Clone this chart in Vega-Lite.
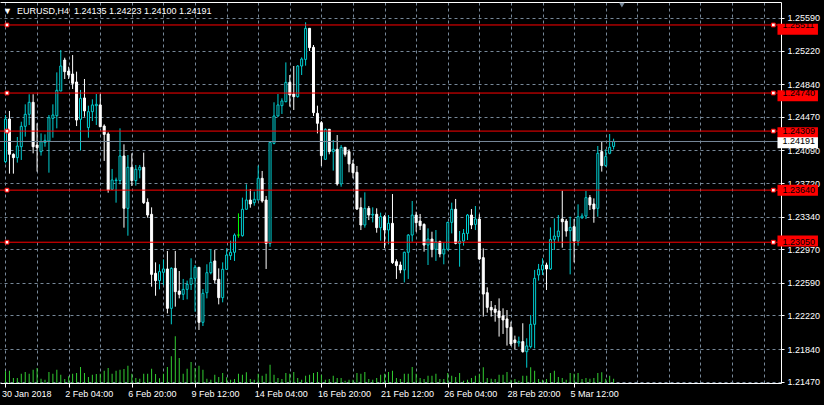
{
"$schema":"https://vega.github.io/schema/vega-lite/v6.json",
"width":781,"height":381,
"autosize":{"type":"none"},
"padding":{"left":0,"top":2,"right":43,"bottom":22},
"background":"#000000",
"config":{"view":{"stroke":null},"font":"Liberation Sans"},
"title":{"text":"▼\u00a0\u00a0EURUSD,H4\u00a0\u00a01.24135 1.24223 1.24100 1.24191","anchor":"start","frame":"group","orient":"top","offset":-21,"dx":3,"fontSize":9,"font":"Liberation Sans","fontWeight":"normal","color":"#ffffff","baseline":"alphabetic"},
"datasets":{
"bars":[
{"i":0,"o":1.23963,"h":1.24491,"l":1.23944,"c":1.24446,"v":1170},
{"i":1,"o":1.24446,"h":1.24537,"l":1.23827,"c":1.24046,"v":1230},
{"i":2,"o":1.24046,"h":1.24057,"l":1.23827,"c":1.24008,"v":500},
{"i":3,"o":1.24008,"h":1.24242,"l":1.23952,"c":1.24140,"v":500},
{"i":4,"o":1.24132,"h":1.24415,"l":1.23982,"c":1.24363,"v":930},
{"i":5,"o":1.24363,"h":1.24612,"l":1.24246,"c":1.24499,"v":1100},
{"i":6,"o":1.24499,"h":1.24726,"l":1.24378,"c":1.24635,"v":930},
{"i":7,"o":1.24635,"h":1.24726,"l":1.24057,"c":1.24132,"v":1330},
{"i":8,"o":1.24151,"h":1.24397,"l":1.23850,"c":1.24121,"v":1500},
{"i":9,"o":1.24076,"h":1.24283,"l":1.24031,"c":1.24189,"v":430},
{"i":10,"o":1.24178,"h":1.24272,"l":1.24132,"c":1.24204,"v":330},
{"i":11,"o":1.24196,"h":1.24491,"l":1.23838,"c":1.24461,"v":1100},
{"i":12,"o":1.24453,"h":1.24612,"l":1.24234,"c":1.24491,"v":930},
{"i":13,"o":1.24483,"h":1.24974,"l":1.24340,"c":1.24771,"v":1330},
{"i":14,"o":1.24763,"h":1.25227,"l":1.24763,"c":1.25046,"v":830},
{"i":15,"o":1.25114,"h":1.25140,"l":1.24899,"c":1.24982,"v":400},
{"i":16,"o":1.24989,"h":1.25038,"l":1.24899,"c":1.24944,"v":670},
{"i":17,"o":1.24955,"h":1.25170,"l":1.24786,"c":1.24850,"v":930},
{"i":18,"o":1.24865,"h":1.24982,"l":1.24366,"c":1.24434,"v":1000},
{"i":19,"o":1.24442,"h":1.24775,"l":1.24088,"c":1.24680,"v":1600},
{"i":20,"o":1.24684,"h":1.24899,"l":1.24472,"c":1.24537,"v":1000},
{"i":21,"o":1.24348,"h":1.24597,"l":1.24234,"c":1.24529,"v":600},
{"i":22,"o":1.24529,"h":1.24669,"l":1.24423,"c":1.24605,"v":830},
{"i":23,"o":1.24597,"h":1.24729,"l":1.24378,"c":1.24612,"v":900},
{"i":24,"o":1.24605,"h":1.24726,"l":1.24351,"c":1.24359,"v":930},
{"i":25,"o":1.24366,"h":1.24385,"l":1.23971,"c":1.24272,"v":1230},
{"i":26,"o":1.24276,"h":1.24295,"l":1.23611,"c":1.23642,"v":1500},
{"i":27,"o":1.23649,"h":1.23880,"l":1.23649,"c":1.23755,"v":930},
{"i":28,"o":1.23748,"h":1.23782,"l":1.23498,"c":1.23755,"v":1230},
{"i":29,"o":1.23748,"h":1.24340,"l":1.23706,"c":1.24027,"v":1330},
{"i":30,"o":1.24027,"h":1.24159,"l":1.23215,"c":1.23434,"v":1400},
{"i":31,"o":1.23434,"h":1.24038,"l":1.23124,"c":1.23899,"v":1730},
{"i":32,"o":1.23899,"h":1.24057,"l":1.23687,"c":1.23748,"v":930},
{"i":33,"o":1.23748,"h":1.23925,"l":1.23691,"c":1.23876,"v":500},
{"i":34,"o":1.23869,"h":1.23925,"l":1.23774,"c":1.23899,"v":430},
{"i":35,"o":1.23899,"h":1.24065,"l":1.23483,"c":1.23498,"v":930},
{"i":36,"o":1.23502,"h":1.23547,"l":1.23328,"c":1.23358,"v":930},
{"i":37,"o":1.23366,"h":1.23445,"l":1.22546,"c":1.22686,"v":1430},
{"i":38,"o":1.22698,"h":1.22822,"l":1.22444,"c":1.22615,"v":900},
{"i":39,"o":1.22615,"h":1.22800,"l":1.22516,"c":1.22717,"v":470},
{"i":40,"o":1.22709,"h":1.22856,"l":1.22565,"c":1.22747,"v":930},
{"i":41,"o":1.22747,"h":1.22951,"l":1.22244,"c":1.22301,"v":1600},
{"i":42,"o":1.22301,"h":1.22766,"l":1.22120,"c":1.22754,"v":2670},
{"i":43,"o":1.22754,"h":1.22951,"l":1.22320,"c":1.22490,"v":4670},
{"i":44,"o":1.22497,"h":1.22724,"l":1.22414,"c":1.22460,"v":2500},
{"i":45,"o":1.22460,"h":1.22634,"l":1.22395,"c":1.22516,"v":930},
{"i":46,"o":1.22516,"h":1.22615,"l":1.22403,"c":1.22573,"v":1430},
{"i":47,"o":1.22573,"h":1.22868,"l":1.22509,"c":1.22641,"v":2100},
{"i":48,"o":1.22641,"h":1.22792,"l":1.22263,"c":1.22766,"v":1500},
{"i":49,"o":1.22766,"h":1.22766,"l":1.22056,"c":1.22143,"v":1730},
{"i":50,"o":1.22143,"h":1.22520,"l":1.22101,"c":1.22471,"v":1330},
{"i":51,"o":1.22478,"h":1.22800,"l":1.22414,"c":1.22705,"v":430},
{"i":52,"o":1.22705,"h":1.22970,"l":1.22686,"c":1.22822,"v":330},
{"i":53,"o":1.22838,"h":1.22962,"l":1.22584,"c":1.22622,"v":830},
{"i":54,"o":1.22630,"h":1.22754,"l":1.22346,"c":1.22422,"v":600},
{"i":55,"o":1.22422,"h":1.22822,"l":1.22369,"c":1.22743,"v":1000},
{"i":56,"o":1.22743,"h":1.22981,"l":1.22736,"c":1.22905,"v":570},
{"i":57,"o":1.22898,"h":1.23067,"l":1.22849,"c":1.22936,"v":330},
{"i":58,"o":1.22936,"h":1.23150,"l":1.22838,"c":1.23131,"v":400},
{"i":59,"o":1.23131,"h":1.23377,"l":1.23101,"c":1.23131,"v":930},
{"i":60,"o":1.23124,"h":1.23555,"l":1.23113,"c":1.23423,"v":830},
{"i":61,"o":1.23423,"h":1.23706,"l":1.23423,"c":1.23528,"v":1070},
{"i":62,"o":1.23528,"h":1.23653,"l":1.23441,"c":1.23483,"v":400},
{"i":63,"o":1.23498,"h":1.23623,"l":1.23464,"c":1.23536,"v":330},
{"i":64,"o":1.23528,"h":1.23918,"l":1.23528,"c":1.23774,"v":930},
{"i":65,"o":1.23774,"h":1.23857,"l":1.23498,"c":1.23517,"v":730},
{"i":66,"o":1.23528,"h":1.23574,"l":1.22747,"c":1.23037,"v":930},
{"i":67,"o":1.23037,"h":1.24196,"l":1.22999,"c":1.24181,"v":1830},
{"i":68,"o":1.24170,"h":1.24635,"l":1.24159,"c":1.24480,"v":830},
{"i":69,"o":1.24480,"h":1.24729,"l":1.24472,"c":1.24605,"v":500},
{"i":70,"o":1.24597,"h":1.24680,"l":1.24503,"c":1.24650,"v":400},
{"i":71,"o":1.24642,"h":1.25087,"l":1.24635,"c":1.24861,"v":1000},
{"i":72,"o":1.24861,"h":1.24944,"l":1.24586,"c":1.24718,"v":930},
{"i":73,"o":1.24729,"h":1.25046,"l":1.24548,"c":1.24699,"v":1100},
{"i":74,"o":1.24699,"h":1.25057,"l":1.24688,"c":1.25046,"v":500},
{"i":75,"o":1.25046,"h":1.25144,"l":1.24944,"c":1.25125,"v":330},
{"i":76,"o":1.25121,"h":1.25541,"l":1.25050,"c":1.25473,"v":730},
{"i":77,"o":1.25473,"h":1.25473,"l":1.25216,"c":1.25254,"v":830},
{"i":78,"o":1.25258,"h":1.25284,"l":1.24480,"c":1.24518,"v":1000},
{"i":79,"o":1.24510,"h":1.24597,"l":1.24283,"c":1.24397,"v":1100},
{"i":80,"o":1.24404,"h":1.24423,"l":1.23914,"c":1.24031,"v":830},
{"i":81,"o":1.23989,"h":1.24340,"l":1.23989,"c":1.24329,"v":330},
{"i":82,"o":1.24329,"h":1.24329,"l":1.24046,"c":1.24076,"v":400},
{"i":83,"o":1.24076,"h":1.24208,"l":1.23861,"c":1.24103,"v":730},
{"i":84,"o":1.24103,"h":1.24264,"l":1.23691,"c":1.23710,"v":500},
{"i":85,"o":1.23710,"h":1.24151,"l":1.23679,"c":1.24125,"v":500},
{"i":86,"o":1.24125,"h":1.24125,"l":1.24020,"c":1.24046,"v":230},
{"i":87,"o":1.24076,"h":1.24103,"l":1.23842,"c":1.23937,"v":330},
{"i":88,"o":1.23937,"h":1.23982,"l":1.23774,"c":1.23838,"v":330},
{"i":89,"o":1.23842,"h":1.23914,"l":1.23415,"c":1.23426,"v":1000},
{"i":90,"o":1.23441,"h":1.23555,"l":1.23188,"c":1.23245,"v":930},
{"i":91,"o":1.23245,"h":1.23615,"l":1.23215,"c":1.23434,"v":1100},
{"i":92,"o":1.23434,"h":1.23460,"l":1.23301,"c":1.23358,"v":400},
{"i":93,"o":1.23358,"h":1.23445,"l":1.23275,"c":1.23366,"v":330},
{"i":94,"o":1.23366,"h":1.23434,"l":1.23158,"c":1.23215,"v":500},
{"i":95,"o":1.23215,"h":1.23385,"l":1.23067,"c":1.23339,"v":830},
{"i":96,"o":1.23339,"h":1.23358,"l":1.22981,"c":1.23188,"v":930},
{"i":97,"o":1.23188,"h":1.23358,"l":1.23026,"c":1.23264,"v":1100},
{"i":98,"o":1.23264,"h":1.23596,"l":1.22804,"c":1.22819,"v":1230},
{"i":99,"o":1.22830,"h":1.22856,"l":1.22634,"c":1.22785,"v":500},
{"i":100,"o":1.22792,"h":1.22830,"l":1.22698,"c":1.22736,"v":400},
{"i":101,"o":1.22736,"h":1.22943,"l":1.22595,"c":1.22936,"v":930},
{"i":102,"o":1.22936,"h":1.23143,"l":1.22634,"c":1.23131,"v":930},
{"i":103,"o":1.23131,"h":1.23517,"l":1.23056,"c":1.23358,"v":1600},
{"i":104,"o":1.23358,"h":1.23396,"l":1.23169,"c":1.23271,"v":930},
{"i":105,"o":1.23290,"h":1.23370,"l":1.23188,"c":1.23237,"v":500},
{"i":106,"o":1.23252,"h":1.23264,"l":1.22943,"c":1.23018,"v":400},
{"i":107,"o":1.23018,"h":1.23207,"l":1.22792,"c":1.23086,"v":730},
{"i":108,"o":1.23086,"h":1.23169,"l":1.22879,"c":1.22970,"v":730},
{"i":109,"o":1.22970,"h":1.23188,"l":1.22838,"c":1.23056,"v":930},
{"i":110,"o":1.23056,"h":1.23067,"l":1.22879,"c":1.22917,"v":400},
{"i":111,"o":1.22917,"h":1.23045,"l":1.22800,"c":1.22970,"v":400},
{"i":112,"o":1.22970,"h":1.23282,"l":1.22955,"c":1.23275,"v":1000},
{"i":113,"o":1.23275,"h":1.23498,"l":1.23150,"c":1.23423,"v":730},
{"i":114,"o":1.23423,"h":1.23540,"l":1.23026,"c":1.23037,"v":600},
{"i":115,"o":1.23037,"h":1.23177,"l":1.22773,"c":1.23063,"v":1000},
{"i":116,"o":1.23063,"h":1.23199,"l":1.23011,"c":1.23150,"v":230},
{"i":117,"o":1.23150,"h":1.23370,"l":1.23075,"c":1.23358,"v":330},
{"i":118,"o":1.23358,"h":1.23426,"l":1.23199,"c":1.23245,"v":500},
{"i":119,"o":1.23252,"h":1.23460,"l":1.23188,"c":1.23313,"v":730},
{"i":120,"o":1.23313,"h":1.23366,"l":1.22849,"c":1.22860,"v":930},
{"i":121,"o":1.22875,"h":1.22981,"l":1.22207,"c":1.22463,"v":1570},
{"i":122,"o":1.22478,"h":1.22539,"l":1.22252,"c":1.22312,"v":500},
{"i":123,"o":1.22312,"h":1.22384,"l":1.22207,"c":1.22282,"v":430},
{"i":124,"o":1.22293,"h":1.22339,"l":1.22150,"c":1.22256,"v":400},
{"i":125,"o":1.22271,"h":1.22414,"l":1.21981,"c":1.22196,"v":830},
{"i":126,"o":1.22215,"h":1.22301,"l":1.22011,"c":1.22169,"v":830},
{"i":127,"o":1.22181,"h":1.22282,"l":1.21879,"c":1.22083,"v":1100},
{"i":128,"o":1.22086,"h":1.22150,"l":1.21875,"c":1.21897,"v":330},
{"i":129,"o":1.21943,"h":1.21992,"l":1.21837,"c":1.21913,"v":400},
{"i":130,"o":1.21909,"h":1.21981,"l":1.21867,"c":1.21924,"v":230},
{"i":131,"o":1.21924,"h":1.22132,"l":1.21799,"c":1.21810,"v":730},
{"i":132,"o":1.21810,"h":1.21962,"l":1.21629,"c":1.21875,"v":730},
{"i":133,"o":1.21867,"h":1.22226,"l":1.21848,"c":1.22120,"v":1570},
{"i":134,"o":1.22120,"h":1.22736,"l":1.21848,"c":1.22641,"v":1230},
{"i":135,"o":1.22679,"h":1.22804,"l":1.22615,"c":1.22743,"v":400},
{"i":136,"o":1.22736,"h":1.22868,"l":1.22679,"c":1.22792,"v":330},
{"i":137,"o":1.22792,"h":1.22819,"l":1.22509,"c":1.22747,"v":400},
{"i":138,"o":1.22747,"h":1.23218,"l":1.22736,"c":1.23082,"v":1000},
{"i":139,"o":1.23082,"h":1.23320,"l":1.22962,"c":1.23120,"v":1230},
{"i":140,"o":1.23113,"h":1.23358,"l":1.23056,"c":1.23177,"v":600},
{"i":141,"o":1.23313,"h":1.23634,"l":1.22988,"c":1.23282,"v":500},
{"i":142,"o":1.23290,"h":1.23313,"l":1.23113,"c":1.23177,"v":330},
{"i":143,"o":1.23181,"h":1.23339,"l":1.22686,"c":1.23218,"v":1000},
{"i":144,"o":1.23226,"h":1.23313,"l":1.22822,"c":1.23063,"v":930},
{"i":145,"o":1.23063,"h":1.23479,"l":1.23011,"c":1.23339,"v":1000},
{"i":146,"o":1.23328,"h":1.23377,"l":1.23313,"c":1.23347,"v":400},
{"i":147,"o":1.23347,"h":1.23630,"l":1.23313,"c":1.23555,"v":500},
{"i":148,"o":1.23555,"h":1.23585,"l":1.23415,"c":1.23472,"v":430},
{"i":149,"o":1.23483,"h":1.23547,"l":1.23271,"c":1.23426,"v":500},
{"i":150,"o":1.23434,"h":1.24140,"l":1.23339,"c":1.24057,"v":1000},
{"i":151,"o":1.24076,"h":1.24189,"l":1.23850,"c":1.23918,"v":1070},
{"i":152,"o":1.23918,"h":1.24103,"l":1.23906,"c":1.24020,"v":430},
{"i":153,"o":1.24057,"h":1.24276,"l":1.24046,"c":1.24125,"v":730},
{"i":154,"o":1.24135,"h":1.24223,"l":1.24100,"c":1.24191,"v":430}
],
"levels":[{"p":1.25511},{"p":1.24740},{"p":1.24309},{"p":1.23640},{"p":1.23050}],
"bid":[{"p":1.24191}]
},
"resolve":{"scale":{"y":"independent"}},
"layer":[
{"data":{"name":"bars"},
 "mark":{"type":"bar","orient":"vertical","size":1,"color":"#32cd32"},
 "encoding":{
  "x":{"field":"i","type":"quantitative","scale":{"domain":[-0.125,195.125],"nice":false,"zero":false},
       "axis":{"orient":"top","domainColor":"#ffffff","ticks":false,"labels":false,"grid":false,"title":null}},
  "y":{"field":"v","type":"quantitative","scale":{"domain":[0,38100],"nice":false},"axis":null}
 }},
{"data":{"name":"bars"},
 "mark":{"type":"rule","strokeWidth":1},
 "encoding":{
  "x":{"field":"i","type":"quantitative","scale":{"domain":[-0.125,195.125],"nice":false,"zero":false},
       "axis":{"orient":"bottom","values":[0,8,16,24,32,40,48,56,64,72,80,88,96,104,112,120,128,136,144,152,160,168,176,184,192],
       "grid":true,"gridColor":"#778899","gridDash":[3,3],"gridWidth":1,
       "domainColor":"#ffffff","tickColor":"#ffffff","tickSize":4,
       "tickOpacity":{"condition":{"test":"datum.value % 16 === 0 && datum.value <= 144","value":1},"value":0},
       "labelExpr":"['30 Jan 2018','2 Feb 04:00','6 Feb 20:00','9 Feb 12:00','14 Feb 04:00','16 Feb 20:00','21 Feb 12:00','26 Feb 04:00','28 Feb 20:00','5 Mar 12:00'][datum.value/16] || ''",
       "labelAlign":"left","labelBaseline":"top","labelPadding":2,"labelOffset":-4,"labelColor":"#ffffff","labelFont":"Liberation Sans","labelFontSize":9,
       "labelOverlap":false,"labelFlush":false,"labelBound":false,"title":null}},
  "y":{"field":"l","type":"quantitative","scale":{"domain":[1.214553,1.257712],"nice":false,"zero":false},
       "axis":{"orient":"right","values":[1.2147,1.2184,1.2222,1.2259,1.2297,1.2334,1.2372,1.2409,1.2447,1.2484,1.2522,1.2559],
       "format":".5f","grid":true,"gridColor":"#778899","gridDash":[3,3],"gridWidth":1,
       "domainColor":"#ffffff","tickColor":"#ffffff","tickSize":3,"labelPadding":3,"labelBaseline":"middle",
       "labelColor":"#ffffff","labelFont":"Liberation Sans","labelFontSize":9,"labelOverlap":false,"labelBound":false,"labelFlush":false,"title":null,"zindex":0}},
  "y2":{"field":"h"},
  "stroke":{"condition":[{"test":"datum.c == datum.o","value":"#00ff00"},{"test":"datum.c > datum.o","value":"#00ced1"}],"value":"#ffffff"}
 }},
{"data":{"name":"bars"},
 "mark":{"type":"bar","orient":"vertical","size":2,"strokeWidth":1},
 "encoding":{
  "x":{"field":"i","type":"quantitative","axis":null},
  "y":{"field":"o","type":"quantitative","scale":{"domain":[1.214553,1.257712],"nice":false,"zero":false},"axis":null},
  "y2":{"field":"c"},
  "fill":{"condition":{"test":"datum.c >= datum.o","value":"#000000"},"value":"#ffffff"},
  "stroke":{"condition":[{"test":"datum.c == datum.o","value":"#00ff00"},{"test":"datum.c > datum.o","value":"#00ced1"}],"value":"#ffffff"}
 }},
{"data":{"name":"bid"},
 "mark":{"type":"rule","color":"#778899","strokeWidth":1},
 "encoding":{"y":{"field":"p","type":"quantitative","scale":{"domain":[1.214553,1.257712],"nice":false,"zero":false},"axis":null}}},
{"data":{"name":"levels"},
 "mark":{"type":"rule","color":"#ff0000","strokeWidth":1},
 "encoding":{"y":{"field":"p","type":"quantitative","scale":{"domain":[1.214553,1.257712],"nice":false,"zero":false},"axis":null}}},
{"data":{"name":"levels"},
 "mark":{"type":"point","shape":"square","filled":true,"fill":"#ffffff","stroke":"#ff0000","strokeWidth":1,"size":14,"opacity":1},
 "encoding":{"x":{"datum":0.375,"type":"quantitative","axis":null},"y":{"field":"p","type":"quantitative","scale":{"domain":[1.214553,1.257712],"nice":false,"zero":false},"axis":null}}},
{"data":{"name":"levels"},
 "mark":{"type":"point","shape":"square","filled":true,"fill":"#ffffff","stroke":"#ff0000","strokeWidth":1,"size":14,"opacity":1},
 "encoding":{"x":{"datum":194.45,"type":"quantitative","axis":null},"y":{"field":"p","type":"quantitative","scale":{"domain":[1.214553,1.257712],"nice":false,"zero":false},"axis":null}}},
{"data":{"name":"levels"},
 "mark":{"type":"bar","orient":"horizontal","size":11,"color":"#ff0000"},
 "encoding":{"x":{"datum":195.5,"type":"quantitative","axis":null},"x2":{"datum":205.75},"y":{"field":"p","type":"quantitative","scale":{"domain":[1.214553,1.257712],"nice":false,"zero":false},"axis":null}}},
{"data":{"name":"levels"},
 "mark":{"type":"text","align":"left","baseline":"middle","font":"Liberation Sans","fontSize":9,"color":"#000000"},
 "encoding":{"x":{"datum":196.75,"type":"quantitative","axis":null},"y":{"field":"p","type":"quantitative","scale":{"domain":[1.214553,1.257712],"nice":false,"zero":false},"axis":null},"text":{"field":"p","type":"quantitative","format":".5f"}}},
{"data":{"name":"bid"},
 "mark":{"type":"bar","orient":"horizontal","size":11,"color":"#ffffff"},
 "encoding":{"x":{"datum":195.5,"type":"quantitative","axis":null},"x2":{"datum":205.75},"y":{"field":"p","type":"quantitative","scale":{"domain":[1.214553,1.257712],"nice":false,"zero":false},"axis":null}}},
{"data":{"name":"bid"},
 "mark":{"type":"text","align":"left","baseline":"middle","font":"Liberation Sans","fontSize":9,"color":"#000000"},
 "encoding":{"x":{"datum":196.75,"type":"quantitative","axis":null},"y":{"field":"p","type":"quantitative","scale":{"domain":[1.214553,1.257712],"nice":false,"zero":false},"axis":null},"text":{"field":"p","type":"quantitative","format":".5f"}}},
{"data":{"values":[{"k":156.1,"p":1.25737}]},
 "mark":{"type":"point","shape":"triangle-down","filled":true,"color":"#778899","size":30,"opacity":1},
 "encoding":{"x":{"field":"k","type":"quantitative","axis":null},"y":{"field":"p","type":"quantitative","scale":{"domain":[1.214553,1.257712],"nice":false,"zero":false},"axis":null}}}
]
}
